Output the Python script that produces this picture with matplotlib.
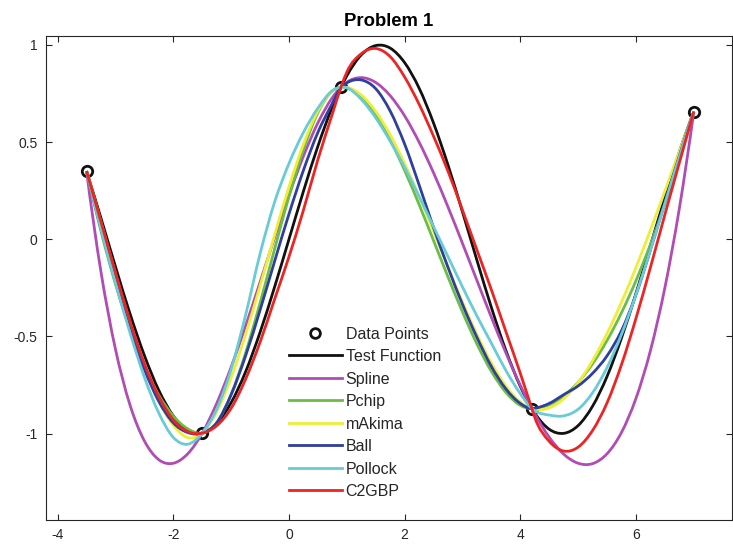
import matplotlib
matplotlib.use('Agg')
import matplotlib.pyplot as plt
from matplotlib.lines import Line2D
from matplotlib.patches import PathPatch
from matplotlib.path import Path
from matplotlib.ticker import FormatStrFormatter

plt.rcParams['font.family'] = ['Liberation Sans', 'DejaVu Sans']
plt.rcParams['axes.unicode_minus'] = False

# data points
px = [-3.5, -1.5, 0.9, 4.2, 7.0]
py = [0.351, -0.998, 0.783, -0.872, 0.657]

# sample positions for the curves
x = [-3.5, -3.25, -3.0, -2.75, -2.5, -2.25, -2.0, -1.75, -1.5,
     -1.25, -1.0, -0.75, -0.5, -0.25, 0.0, 0.25, 0.5, 0.75, 0.9,
     1.0, 1.25, 1.5, 1.75, 2.0, 2.25, 2.5, 2.75, 3.0, 3.25, 3.5, 3.75, 4.0, 4.2,
     4.25, 4.5, 4.75, 5.0, 5.25, 5.5, 5.75, 6.0, 6.25, 6.5, 6.75, 7.0]

test_fn = [0.351, 0.108, -0.141, -0.382, -0.598, -0.778, -0.909, -0.984, -0.997,
           -0.949, -0.841, -0.682, -0.479, -0.247, 0.0, 0.247, 0.479, 0.682, 0.783,
           0.841, 0.949, 0.997, 0.984, 0.909, 0.778, 0.598, 0.382, 0.141, -0.108, -0.351, -0.572, -0.757, -0.872,
           -0.895, -0.978, -0.999, -0.959, -0.859, -0.706, -0.508, -0.279, -0.033, 0.215, 0.450, 0.657]

spline = [0.351, -0.169, -0.566, -0.852, -1.038, -1.135, -1.153, -1.104, -0.998,
          -0.845, -0.658, -0.446, -0.221, 0.007, 0.227, 0.428, 0.599, 0.729, 0.783,
          0.808, 0.832, 0.807, 0.739, 0.635, 0.500, 0.342, 0.166, -0.021, -0.212, -0.402, -0.584, -0.752, -0.872,
          -0.899, -1.019, -1.106, -1.153, -1.155, -1.104, -0.994, -0.819, -0.573, -0.249, 0.159, 0.657]

pchip = [0.351, 0.041, -0.231, -0.462, -0.653, -0.803, -0.910, -0.976, -0.998,
         -0.944, -0.798, -0.585, -0.328, -0.052, 0.220, 0.462, 0.651, 0.763, 0.783,
         0.779, 0.731, 0.639, 0.511, 0.354, 0.179, -0.007, -0.194, -0.374, -0.539, -0.680, -0.788, -0.855, -0.872,
         -0.871, -0.852, -0.807, -0.736, -0.641, -0.521, -0.378, -0.213, -0.026, 0.182, 0.410, 0.657]

makima = [0.351, 0.087, -0.178, -0.428, -0.652, -0.835, -0.957, -1.021, -0.998,
          -0.888, -0.713, -0.490, -0.240, 0.020, 0.269, 0.489, 0.660, 0.762, 0.783,
          0.782, 0.742, 0.658, 0.538, 0.389, 0.221, 0.041, -0.143, -0.323, -0.490, -0.637, -0.756, -0.838, -0.872,
          -0.875, -0.868, -0.821, -0.738, -0.625, -0.485, -0.324, -0.145, 0.048, 0.248, 0.453, 0.657]

ball = [0.351, 0.055, -0.215, -0.46, -0.67, -0.835, -0.945, -0.995, -0.998,
        -0.945, -0.80, -0.60, -0.365, -0.115, 0.13, 0.355, 0.55, 0.70, 0.783,
        0.805, 0.82, 0.775, 0.66, 0.49, 0.28, 0.06, -0.145, -0.335, -0.505, -0.655, -0.77, -0.845, -0.872,
        -0.87, -0.845, -0.80, -0.755, -0.69, -0.60, -0.47, -0.285, -0.055, 0.19, 0.43, 0.657]

pollock = [0.351, 0.05, -0.225, -0.48, -0.71, -0.895, -1.02, -1.055, -0.998,
           -0.875, -0.67, -0.39, -0.075, 0.19, 0.39, 0.55, 0.675, 0.765, 0.783,
           0.78, 0.72, 0.625, 0.505, 0.37, 0.22, 0.065, -0.09, -0.245, -0.395, -0.535, -0.675, -0.795, -0.872,
           -0.883, -0.905, -0.909, -0.875, -0.79, -0.66, -0.49, -0.285, -0.055, 0.185, 0.425, 0.657]

c2gbp = [0.351, 0.09, -0.17, -0.42, -0.64, -0.81, -0.93, -0.99, -0.998,
         -0.96, -0.87, -0.72, -0.53, -0.31, -0.09, 0.15, 0.41, 0.645, 0.783,
         0.86, 0.955, 0.982, 0.94, 0.835, 0.695, 0.53, 0.35, 0.15, -0.055, -0.26, -0.475, -0.69, -0.872,
         -0.917, -1.04, -1.09, -1.07, -0.984, -0.842, -0.645, -0.407, -0.145, 0.127, 0.394, 0.657]

names = ['Test Function', 'Spline', 'Pchip', 'mAkima', 'Ball', 'Pollock', 'C2GBP']
series = [test_fn, spline, pchip, makima, ball, pollock, c2gbp]
colors = ['#111111', '#B04CB4', '#6BBD45', '#EEEE33', '#2E3F9F', '#68CBD8', '#EE2424']


def smooth_path(xs, ys):
    # cubic bezier through the sampled values, tangents from neighbouring samples
    n = len(xs)
    h = [xs[i + 1] - xs[i] for i in range(n - 1)]
    d = [(ys[i + 1] - ys[i]) / h[i] for i in range(n - 1)]
    m = [0.0] * n
    m[0] = ((2 * h[0] + h[1]) * d[0] - h[0] * d[1]) / (h[0] + h[1])
    m[-1] = ((2 * h[-1] + h[-2]) * d[-1] - h[-1] * d[-2]) / (h[-1] + h[-2])
    for i in range(1, n - 1):
        m[i] = (h[i] * d[i - 1] + h[i - 1] * d[i]) / (h[i - 1] + h[i])
    verts = [(xs[0], ys[0])]
    codes = [Path.MOVETO]
    for i in range(n - 1):
        verts += [(xs[i] + h[i] / 3, ys[i] + m[i] * h[i] / 3),
                  (xs[i + 1] - h[i] / 3, ys[i + 1] - m[i + 1] * h[i] / 3),
                  (xs[i + 1], ys[i + 1])]
        codes += [Path.CURVE4] * 3
    return Path(verts, codes)


fig = plt.figure(figsize=(7.33, 5.47), dpi=100)
ax = fig.add_axes([0.0623, 0.0494, 0.9363, 0.8854])

lw = 2.0
ax.plot(px, py, 'o', color='#111111', mfc='none', mew=2.0, ms=7.5, zorder=2)
for ys, c in zip(series, colors):
    ax.add_patch(PathPatch(smooth_path(x, ys), facecolor='none', edgecolor=c,
                           lw=lw, joinstyle='round', zorder=2))

ax.set_xlim(-4.207, 7.66)
ax.set_ylim(-1.445, 1.048)
ax.set_xticks([-4, -2, 0, 2, 4, 6])
ax.set_yticks([-1, -0.5, 0, 0.5, 1])
ax.yaxis.set_major_formatter(FormatStrFormatter('%g'))

grey = '#262626'
for s in ax.spines.values():
    s.set_color(grey)
    s.set_linewidth(0.8)
ax.tick_params(direction='in', length=4, width=0.8, color=grey, labelcolor=grey,
               labelsize=10, top=True, right=True, pad=6)

ax.set_title('Problem 1', fontsize=13.3, fontweight='bold', pad=7)

handles = [Line2D([], [], ls='none', marker='o', color='#111111', mfc='none', mew=2.0, ms=7)]
handles += [Line2D([], [], color=c, lw=lw) for c in colors]
ax.legend(handles, ['Data Points'] + names, loc='lower left', bbox_to_anchor=(0.345, 0.030),
          frameon=False, fontsize=11.5, handlelength=3.3, handletextpad=0.25,
          labelspacing=0.47, borderaxespad=0, labelcolor=grey)

fig.savefig('out.png', dpi=100)
